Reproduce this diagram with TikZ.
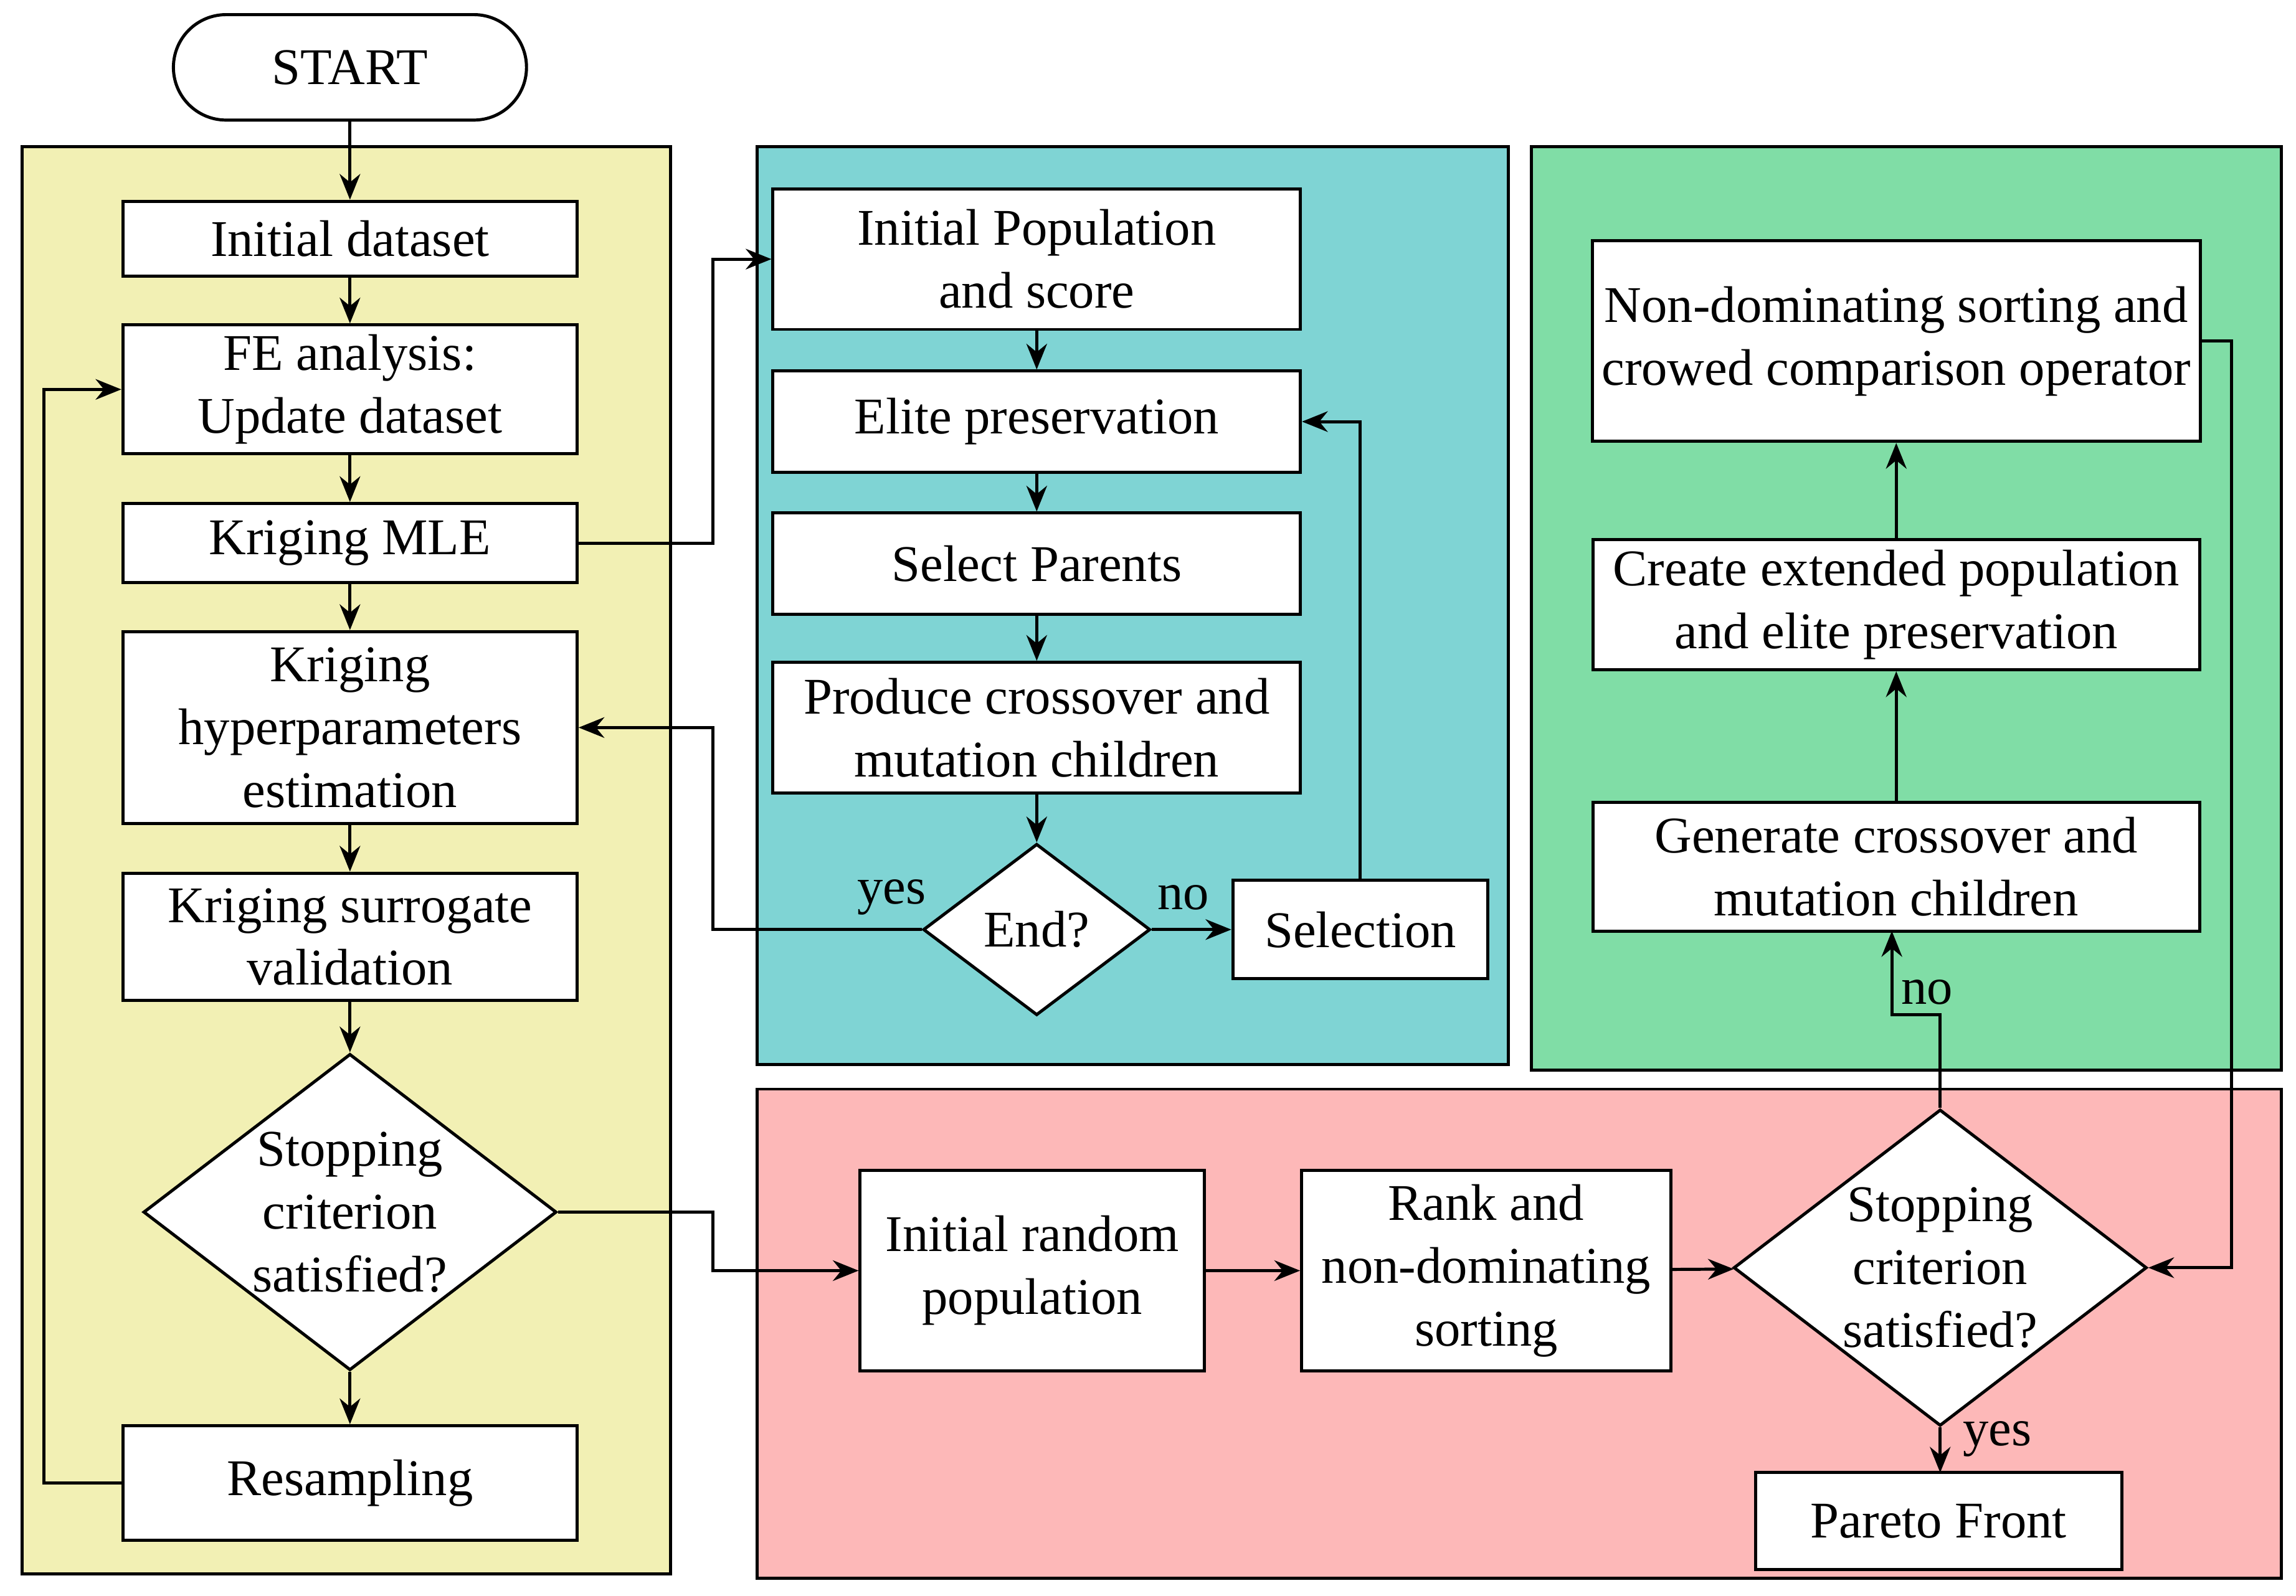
\documentclass[tikz,border=0pt]{standalone}
\usepackage{fontspec}
\setmainfont{Liberation Serif}
\usetikzlibrary{shapes.geometric,arrows.meta}
\definecolor{cyel}{HTML}{F2F0B4}
\definecolor{ccya}{HTML}{7FD4D4}
\definecolor{cgrn}{HTML}{80DDA6}
\definecolor{cpnk}{HTML}{FDB8B8}
\begin{document}
\begin{tikzpicture}[x=0.01cm,y=-0.01cm,
  every node/.style={font=\fontsize{10}{12.2}\selectfont},
  box/.style={draw,fill=white,line width=0.6pt,align=center,inner sep=0pt},
  dia/.style={draw,fill=white,diamond,line width=0.6pt,align=center,inner sep=0pt,aspect=1.3},
  panel/.style={draw,line width=0.6pt},
  ar/.style={-{Stealth[length=5pt,width=4pt]},line width=0.6pt},
  ln/.style={line width=0.6pt}]
\useasboundingbox (0,0) rectangle (1568,1090);
\draw[panel,fill=cyel] (15,100) rectangle (458,1075);
\draw[panel,fill=ccya] (517,100) rectangle (1030,727);
\draw[panel,fill=cgrn] (1046,100) rectangle (1558,731);
\draw[panel,fill=cpnk] (517,744) rectangle (1558,1078);

\node[box,rounded corners=0.36cm,minimum width=2.41cm,minimum height=0.72cm] (start) at (239,46) {START};
\node[box,minimum width=3.1cm,minimum height=0.51cm] (ids) at (239,163) {Initial dataset};
\node[box,minimum width=3.1cm,minimum height=0.88cm] (fe) at (239,266) {FE analysis:\\Update dataset};
\node[box,minimum width=3.1cm,minimum height=0.54cm] (mle) at (239,371) {Kriging MLE};
\node[box,minimum width=3.1cm,minimum height=1.31cm] (hyp) at (239,497) {Kriging\\hyperparameters\\estimation};
\node[box,minimum width=3.1cm,minimum height=0.87cm] (val) at (239,640) {Kriging surrogate\\validation};
\node[dia,minimum width=2.82cm,minimum height=2.16cm] (st1) at (239,828) {Stopping\\criterion\\satisfied?};
\node[box,minimum width=3.1cm,minimum height=0.78cm] (res) at (239,1013) {Resampling};

\node[box,minimum width=3.6cm,minimum height=0.96cm] (ip) at (708,177) {Initial Population\\and score};
\node[box,minimum width=3.6cm,minimum height=0.69cm] (el) at (708,288) {Elite preservation};
\node[box,minimum width=3.6cm,minimum height=0.69cm] (sp) at (708,385) {Select Parents};
\node[box,minimum width=3.6cm,minimum height=0.89cm] (pc) at (708,497) {Produce crossover and\\mutation children};
\node[dia,minimum width=1.55cm,minimum height=1.17cm] (end) at (708,635) {End?};
\node[box,minimum width=1.74cm,minimum height=0.67cm] (sel) at (929,635) {Selection};

\node[box,minimum width=4.15cm,minimum height=1.37cm] (nd) at (1295,233) {Non-dominating sorting and\\crowed comparison operator};
\node[box,minimum width=4.14cm,minimum height=0.89cm] (ce) at (1295,413) {Create extended population\\and elite preservation};
\node[box,minimum width=4.14cm,minimum height=0.88cm] (gc) at (1295,592) {Generate crossover and\\mutation children};

\node[box,minimum width=2.35cm,minimum height=1.37cm] (ir) at (705,868) {Initial random\\population};
\node[box,minimum width=2.52cm,minimum height=1.37cm] (rk) at (1015,868) {Rank and\\non-dominating\\sorting};
\node[dia,minimum width=2.82cm,minimum height=2.16cm] (st2) at (1325,866) {Stopping\\criterion\\satisfied?};
\node[box,minimum width=2.5cm,minimum height=0.66cm] (pf) at (1324,1039) {Pareto Front};

\draw[ar] (start) -- (ids);
\draw[ar] (ids) -- (fe);
\draw[ar] (fe) -- (mle);
\draw[ar] (mle) -- (hyp);
\draw[ar] (hyp) -- (val);
\draw[ar] (val) -- (st1);
\draw[ar] (st1) -- (res);
\draw[ar] (res.west) -- (30,1013) |- (fe.west);
\draw[ar] (mle.east) -- (487,371) |- (ip.west);
\draw[ar] (ip) -- (el);
\draw[ar] (el) -- (sp);
\draw[ar] (sp) -- (pc);
\draw[ar] (pc) -- (end);
\draw[ar] (end.west) -- (487,635) |- (hyp.east);
\node at (609,613) {yes};
\draw[ar] (end.east) -- (sel.west);
\node at (808,613) {no};
\draw[ar] (sel.north) |- (el.east);
\draw[ar] (st1.east) -- (487,828) |- (ir.west);
\draw[ar] (ir) -- (rk);
\draw[ar] (rk) -- (st2);
\draw[ar] (st2.north) -- (1325,693) -- (1292,693) -- (1292,636);
\node at (1316,678) {no};
\draw[ar] (gc) -- (ce);
\draw[ar] (ce) -- (nd);
\draw[ar] (nd.east) -- (1524,233) |- (st2.east);
\draw[ar] (st2.south) -- (1325,1006);
\node at (1364,983) {yes};
\end{tikzpicture}
\end{document}
